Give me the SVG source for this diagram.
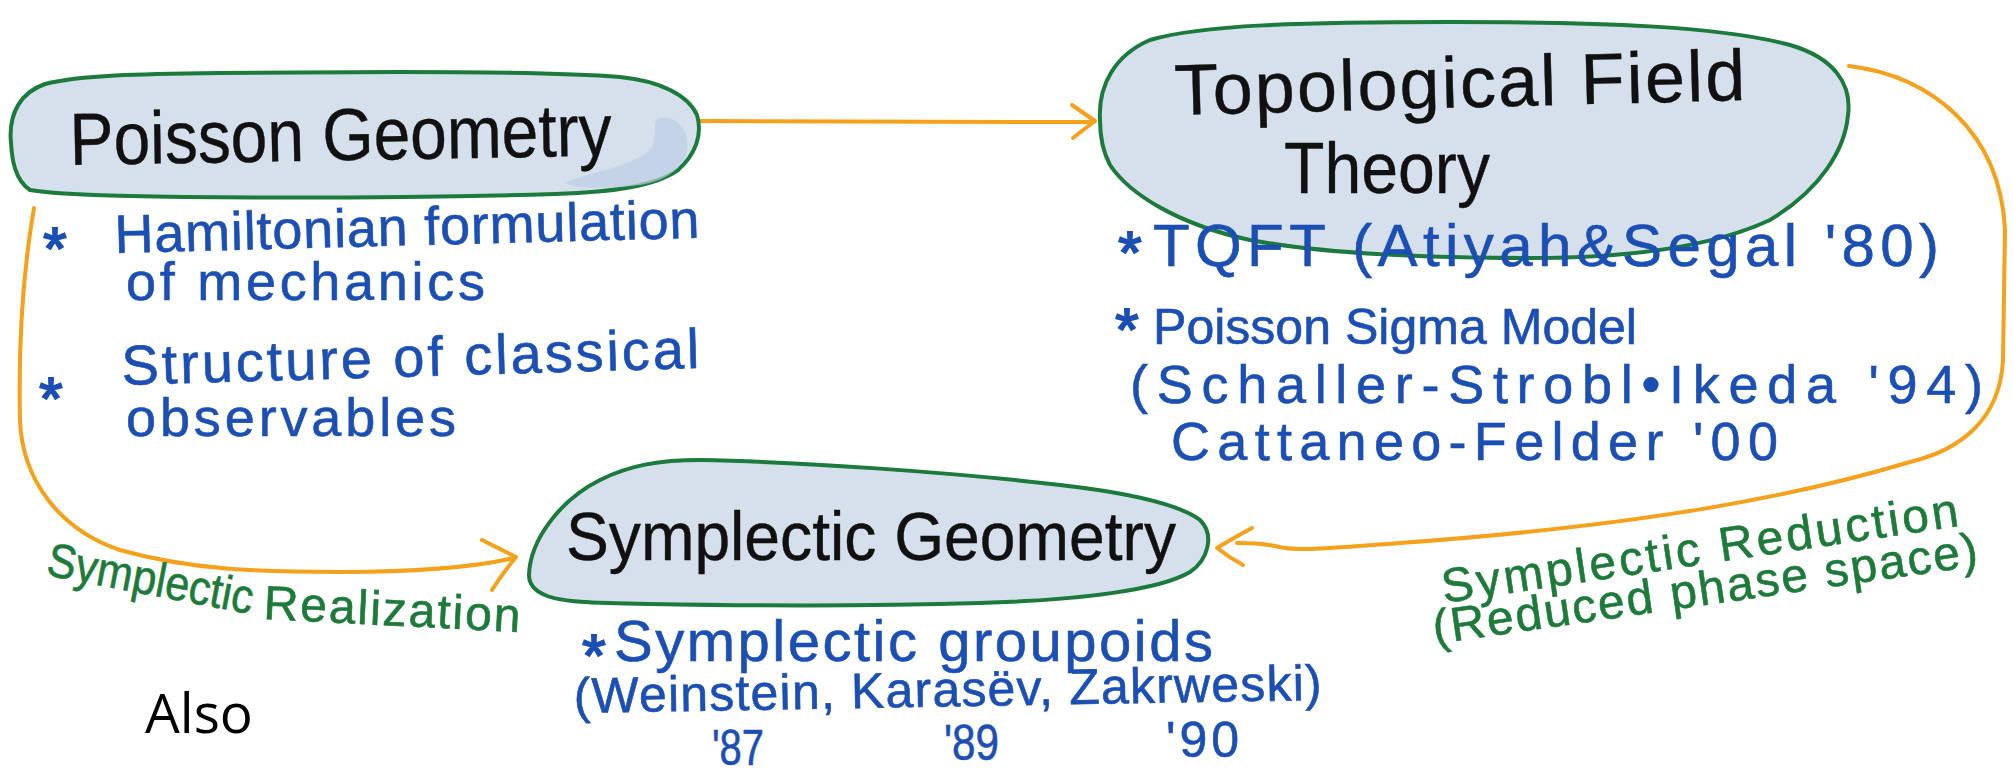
<svg xmlns="http://www.w3.org/2000/svg" width="2013" height="776" viewBox="0 0 2013 776">
<defs>
<style>
.blob{fill:#d5e0ec;stroke:#1b7a3c;stroke-width:4;stroke-linejoin:round}
.smudge{fill:#bccde2;opacity:.7}
.title{font-family:"Liberation Sans",Arial,sans-serif;fill:#111;stroke:#111;stroke-width:.4}
.blue{font-family:"Liberation Sans",Arial,sans-serif;fill:#1c4fb4;stroke:#1c4fb4;stroke-width:.6}
.star{font-family:"Liberation Sans",Arial,sans-serif;font-size:60px;fill:#1c4fb4;stroke:#1c4fb4;stroke-width:2;text-anchor:middle}
.green{font-family:"Liberation Sans",Arial,sans-serif;font-size:48px;fill:#1e7a3b;stroke:#1e7a3b;stroke-width:.6}
.conn{fill:none;stroke:#f5a11c;stroke-width:4;stroke-linecap:round;stroke-linejoin:round}
</style>
</defs>
<rect width="2013" height="776" fill="#ffffff"/>

<g id="connectors">
<path class="conn" d="M 700 121 C 800 121, 950 122, 1093 122"/>
<path class="conn" d="M 1072 105 Q 1085 114 1095 121 Q 1083 130 1073 138"/>
<path class="conn" d="M 34 208 C 25 260, 18 330, 20 420 C 22 480, 60 530, 120 550 C 190 570, 260 572, 340 572 C 420 572, 480 566, 514 558"/>
<path class="conn" d="M 482 540 Q 500 549 516 557 Q 502 574 492 590"/>
<path class="conn" d="M 1849 66 C 1930 76, 2000 130, 2005 230 L 2003 360 C 2000 420, 1960 450, 1910 462 C 1800 495, 1650 525, 1400 543 C 1330 548, 1295 552, 1275 546 C 1260 543, 1248 543, 1237 543"/>
<path class="conn" d="M 1252 528 Q 1230 540 1217 548 Q 1230 558 1243 565"/>
</g>

<g id="poisson">
<path class="blob" d="M 11 143 C 8 112, 22 92, 45 84 C 80 75, 140 74, 220 73 L 400 72 C 480 72, 570 73, 620 77 C 660 81, 688 95, 697 115 C 703 135, 695 155, 678 170 C 655 186, 615 192, 555 194 C 450 197, 300 198, 184 197 C 120 196, 60 195, 30 190 C 15 180, 12 160, 11 143 Z"/>
<path class="smudge" d="M 660 118 C 680 115, 692 135, 686 155 C 680 172, 660 182, 640 185 C 620 188, 575 190, 565 183 C 580 174, 630 168, 650 150 C 660 138, 650 122, 660 118 Z"/>
<text class="title" x="70" y="165" font-size="74" textLength="542" lengthAdjust="spacingAndGlyphs" transform="rotate(-1 70 165)">Poisson Geometry</text>
<text class="star" x="55" y="269">*</text>
<text class="blue" x="115" y="253" font-size="54" textLength="585" lengthAdjust="spacing" transform="rotate(-1.5 115 253)">Hamiltonian formulation</text>
<text class="blue" x="126" y="300" font-size="54" textLength="359" lengthAdjust="spacing">of mechanics</text>
<text class="star" x="51" y="419">*</text>
<text class="blue" x="122" y="385" font-size="56" textLength="578" lengthAdjust="spacing" transform="rotate(-1.7 122 385)">Structure of classical</text>
<text class="blue" x="126" y="436" font-size="54" textLength="330" lengthAdjust="spacing">observables</text>
</g>

<g id="tft">
<path class="blob" d="M 1100 120 C 1098 85, 1115 55, 1150 40 C 1200 25, 1300 22, 1450 22 C 1600 22, 1720 26, 1790 45 C 1835 58, 1852 85, 1848 115 C 1845 150, 1820 190, 1770 220 C 1710 248, 1620 258, 1530 258 C 1420 258, 1320 253, 1250 240 C 1180 225, 1130 195, 1110 165 C 1102 150, 1100 135, 1100 120 Z"/>
<text class="title" x="1175" y="115" font-size="72" textLength="571" lengthAdjust="spacing" transform="rotate(-1.5 1175 115)">Topological Field</text>
<text class="title" x="1284" y="193" font-size="72" textLength="206" lengthAdjust="spacingAndGlyphs">Theory</text>
<text class="star" x="1130" y="273">*</text>
<text class="blue" x="1153" y="266" font-size="60" textLength="786" lengthAdjust="spacing">TQFT (Atiyah&amp;Segal '80)</text>
<text class="star" x="1127" y="350">*</text>
<text class="blue" x="1153" y="344" font-size="50" textLength="484" lengthAdjust="spacingAndGlyphs">Poisson Sigma Model</text>
<text class="blue" x="1130" y="403" font-size="54" textLength="853" lengthAdjust="spacing">(Schaller-Strobl•Ikeda '94)</text>
<text class="blue" x="1171" y="460" font-size="54" textLength="607" lengthAdjust="spacing">Cattaneo-Felder '00</text>
</g>

<g id="symplectic">
<path class="blob" d="M 529 575 C 530 540, 560 500, 600 480 C 630 465, 660 460, 700 460 C 800 462, 950 472, 1060 485 C 1130 493, 1180 505, 1200 520 C 1215 535, 1208 560, 1190 572 C 1160 590, 1080 600, 980 603 C 880 606, 760 606, 650 604 C 590 603, 560 602, 545 595 C 533 590, 529 583, 529 575 Z"/>
<text class="title" x="566" y="560" font-size="68" textLength="610" lengthAdjust="spacingAndGlyphs">Symplectic Geometry</text>
<text class="star" x="594" y="676">*</text>
<text class="blue" x="614" y="661" font-size="58" textLength="599" lengthAdjust="spacing">Symplectic groupoids</text>
<text class="blue" x="574" y="713" font-size="50" textLength="748" lengthAdjust="spacing" transform="rotate(-1 574 713)">(Weinstein, Karasëv, Zakrweski)</text>
<text class="blue" x="712" y="765" font-size="50" textLength="52" lengthAdjust="spacingAndGlyphs">'87</text>
<text class="blue" x="944" y="760" font-size="50" textLength="55" lengthAdjust="spacingAndGlyphs">'89</text>
<text class="blue" x="1166" y="757" font-size="50" textLength="73" lengthAdjust="spacing">'90</text>
</g>

<g id="labels">
<text class="green" x="45" y="575" textLength="209" lengthAdjust="spacingAndGlyphs" transform="rotate(10.8 45 575)">Symplectic</text>
<text class="green" x="263" y="619" textLength="257" lengthAdjust="spacing" transform="rotate(2.9 263 619)">Realization</text>
<text class="green" x="1444" y="603" textLength="522" lengthAdjust="spacing" transform="rotate(-8.5 1444 603)">Symplectic Reduction</text>
<text class="green" x="1435" y="644" textLength="550" lengthAdjust="spacing" transform="rotate(-8.2 1435 644)">(Reduced phase space)</text>
</g>

<g id="also">
<text x="145" y="733" font-family="'Open Sans','Noto Sans',sans-serif" font-size="55" fill="#000">Also</text>
</g>
</svg>
